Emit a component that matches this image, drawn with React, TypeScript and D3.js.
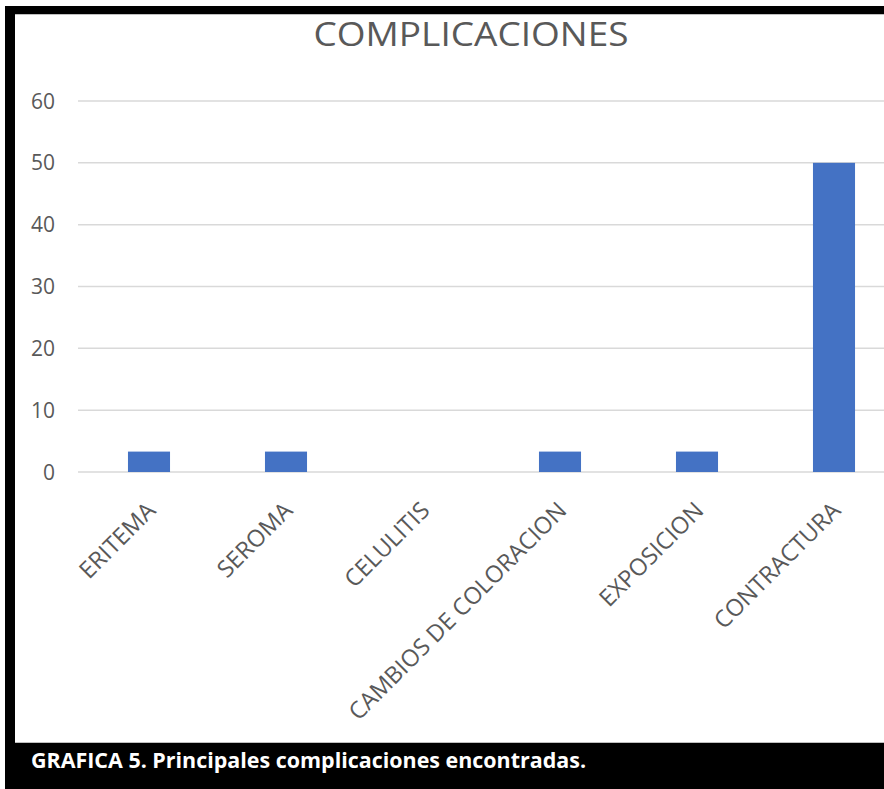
import React from "react";
import * as d3 from "d3";

const title = "COMPLICACIONES";
const caption = "GRAFICA 5. Principales complicaciones encontradas.";
const categories = ["ERITEMA", "SEROMA", "CELULITIS", "CAMBIOS DE COLORACION", "EXPOSICION", "CONTRACTURA"];
const values = [3.3, 3.3, 0, 3.3, 3.3, 50];
const yTicks = [0, 10, 20, 30, 40, 50, 60];

const W = 884;
const H = 789;
const FONT = "'Open Sans', 'Noto Sans', sans-serif";

export default function App() {
  const x = d3
    .scaleBand<string>()
    .domain(categories)
    .range([80.5, 902.5])
    .paddingInner(0.693)
    .paddingOuter(0.3465);
  const y = d3.scaleLinear().domain([0, 60]).range([472, 101]);

  return (
    <svg
      width={W}
      height={H}
      style={{ position: "absolute", left: 0, top: 0, background: "#fff" }}
      fontFamily={FONT}
    >
      <rect x={0} y={0} width={W} height={H} fill="#fff" />
      {/* frame */}
      <rect x={5} y={6} width={W - 5} height={8} fill="#000" />
      <rect x={5} y={6} width={10} height={740} fill="#000" />
      <rect x={5} y={743} width={W - 5} height={H - 743} fill="#000" />
      <line x1={15} x2={W} y1={14.5} y2={14.5} stroke="#bfbfbf" strokeWidth={1} />
      <line x1={15} x2={W} y1={742.5} y2={742.5} stroke="#bfbfbf" strokeWidth={1} />

      {/* title */}
      <text
        x={471}
        y={46}
        textAnchor="middle"
        fontSize={32}
        fill="#595959"
        textLength={315}
        lengthAdjust="spacingAndGlyphs"
      >
        {title}
      </text>

      {/* gridlines and y labels */}
      {yTicks.map((t) => (
        <g key={t}>
          <line x1={78} x2={W} y1={y(t)} y2={y(t)} stroke="#d9d9d9" strokeWidth={1.5} />
          <text x={55} y={y(t)} dy="0.36em" textAnchor="end" fontSize={21} fill="#595959">
            {t}
          </text>
        </g>
      ))}

      {/* bars */}
      {categories.map((c, i) => (
        <rect
          key={c}
          x={x(c)!}
          y={y(values[i])}
          width={x.bandwidth()}
          height={y(0) - y(values[i])}
          fill="#4472C4"
        />
      ))}

      {/* x labels */}
      {categories.map((c) => {
        const cx = x(c)! + x.bandwidth() / 2 + 8;
        return (
          <text
            key={c}
            transform={`translate(${cx},512) rotate(-45)`}
            textAnchor="end"
            fontSize={23.5}
            fill="#595959"
          >
            {c}
          </text>
        );
      })}

      {/* caption */}
      <text
        x={31}
        y={768}
        fontSize={21}
        fontWeight="bold"
        fill="#fff"
        textLength={555}
        lengthAdjust="spacingAndGlyphs"
      >
        {caption}
      </text>
    </svg>
  );
}
